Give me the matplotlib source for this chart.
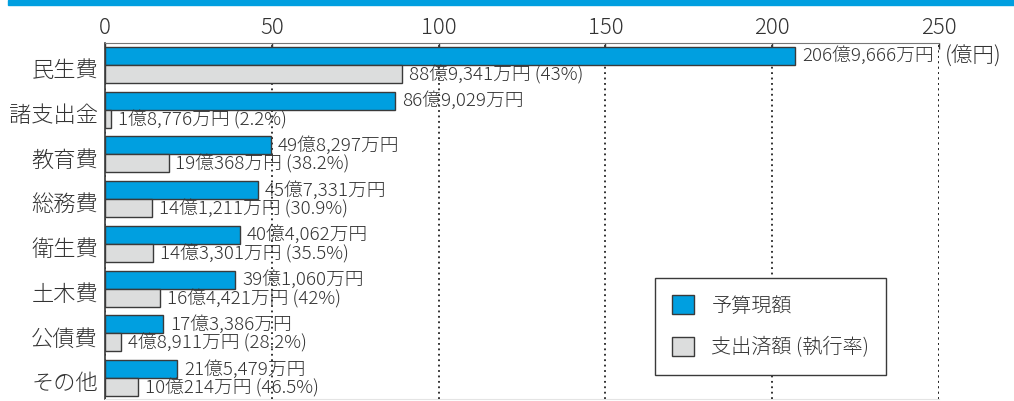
import numpy as np
import matplotlib
matplotlib.use('Agg')
import matplotlib.pyplot as plt
from matplotlib.patches import Rectangle, Patch

plt.rcParams['font.family'] = ['Noto Sans CJK JP', 'DejaVu Sans']
plt.rcParams['font.weight'] = 'light'

# data (unit: 万円)
categories = ['民生費', '諸支出金', '教育費', '総務費', '衛生費', '土木費', '公債費', 'その他']
budget = [2069666, 869029, 498297, 457331, 404062, 391060, 173386, 215479]
spent = [889341, 18776, 190368, 141211, 143301, 164421, 48911, 100214]
rate = [43, 2.2, 38.2, 30.9, 35.5, 42, 28.2, 46.5]
xticks = [0, 50, 100, 150, 200, 250]
legend_labels = ['予算現額', '支出済額 (執行率)']

blue = '#009fe0'
gray = '#dcdddd'
edge = '#3a3a3a'
txt = '#333333'


def fmt(v):
    oku, man = divmod(v, 10000)
    return f'{oku}億{man:,}万円'


fig = plt.figure(figsize=(10.14, 4.01), dpi=100)
fig.patches.append(Rectangle((8 / 1014, 1 - 5 / 401), 1, 5 / 401,
                             transform=fig.transFigure, color=blue, zorder=0))

ax = fig.add_axes([105 / 1014, 2 / 401, 834 / 1014, 356 / 401])

y = np.arange(len(categories))
b = np.array(budget) / 10000
s = np.array(spent) / 10000

ax.barh(y - 0.2, b, height=0.4, color=blue, edgecolor=edge, linewidth=1, zorder=3)
ax.barh(y + 0.2, s, height=0.4, color=gray, edgecolor=edge, linewidth=1, zorder=3)

for i in range(len(categories)):
    ax.annotate(fmt(budget[i]), (b[i], y[i] - 0.2), xytext=(5, 0),
                textcoords='offset points', va='center', ha='left',
                fontsize=13.5, color=txt, zorder=4)
    ax.annotate(f'{fmt(spent[i])} ({rate[i]:g}%)', (s[i], y[i] + 0.22), xytext=(5, 0),
                textcoords='offset points', va='center', ha='left',
                fontsize=13.5, color=txt, zorder=4)

ax.set_xlim(0, 250)
ax.set_ylim(7.467, -0.489)
ax.set_xticks(xticks)
ax.xaxis.tick_top()
ax.tick_params(axis='x', direction='in', length=4, width=1, color=edge,
               labelsize=16, labelcolor=txt, pad=3)
ax.set_yticks(y + 0.08)
ax.set_yticklabels(categories)
ax.tick_params(axis='y', length=0, labelsize=16, labelcolor=txt, pad=5)

ax.xaxis.grid(True, linestyle=(0, (1, 2)), color='#222222', linewidth=1.3)
ax.set_axisbelow(True)
ax.axvline(250, linestyle=(0, (1, 2)), color='#222222', linewidth=1.3, zorder=1)

ax.spines['right'].set_visible(False)
ax.spines['top'].set_color('#777777')
ax.spines['left'].set_color(edge)
ax.spines['left'].set_linewidth(1.2)
ax.spines['bottom'].set_color('#e4e4e4')

fig.text(945 / 1014, 1 - 57 / 401, '(億円)', ha='left', va='center',
         fontsize=15.5, color=txt)

handles = [Patch(facecolor=blue, edgecolor=edge, linewidth=1),
           Patch(facecolor=gray, edgecolor=edge, linewidth=1)]
leg = ax.legend(handles, legend_labels, loc='upper left',
                bbox_to_anchor=(655 / 1014, 1 - 278 / 401),
                bbox_transform=fig.transFigure, borderaxespad=0,
                fontsize=14.5, handlelength=1.1, handleheight=1.1,
                handletextpad=0.85, labelspacing=1.0, borderpad=0.85,
                fancybox=False, framealpha=1, edgecolor=edge)
leg.get_frame().set_linewidth(1)
for t in leg.get_texts():
    t.set_color(txt)

fig.savefig('out.png', dpi=100)
